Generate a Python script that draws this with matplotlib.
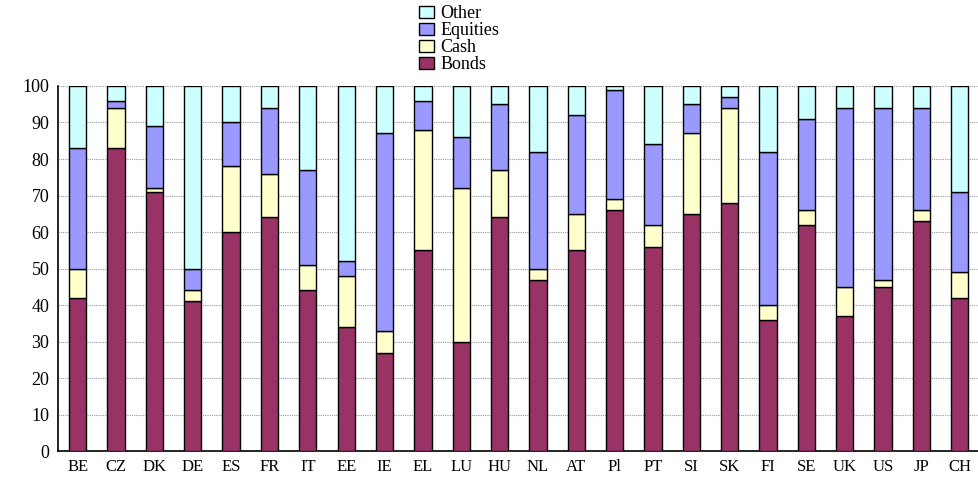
import numpy as np
import matplotlib
matplotlib.use('Agg')
import matplotlib.pyplot as plt

plt.rc('font', family='Liberation Serif')

countries = ['BE', 'CZ', 'DK', 'DE', 'ES', 'FR', 'IT', 'EE', 'IE', 'EL', 'LU', 'HU',
             'NL', 'AT', 'Pl', 'PT', 'SI', 'SK', 'FI', 'SE', 'UK', 'US', 'JP', 'CH']
bonds = [42, 83, 71, 41, 60, 64, 44, 34, 27, 55, 30, 64,
         47, 55, 66, 56, 65, 68, 36, 62, 37, 45, 63, 42]
cash = [8, 11, 1, 3, 18, 12, 7, 14, 6, 33, 42, 13,
        3, 10, 3, 6, 22, 26, 4, 4, 8, 2, 3, 7]
equities = [33, 2, 17, 6, 12, 18, 26, 4, 54, 8, 14, 18,
            32, 27, 30, 22, 8, 3, 42, 25, 49, 47, 28, 22]
other = [17, 4, 11, 50, 10, 6, 23, 48, 13, 4, 14, 5,
         18, 8, 1, 16, 5, 3, 18, 9, 6, 6, 6, 29]

series = [('Bonds', bonds, '#993366'),
          ('Cash', cash, '#FFFFCC'),
          ('Equities', equities, '#9999FF'),
          ('Other', other, '#CCFFFF')]

fig = plt.figure(figsize=(9.79, 4.83), dpi=100)
ax = fig.add_axes([0.059, 0.066, 0.941, 0.756])

x = np.arange(len(countries))
bottom = np.zeros(len(countries))
handles = []
for name, vals, col in series:
    b = ax.bar(x, vals, 0.45, bottom=bottom, color=col, edgecolor='black',
               linewidth=1.0, label=name, zorder=3)
    handles.append(b)
    bottom += np.array(vals)

ax.set_ylim(0, 100)
ax.set_xlim(-0.52, len(countries) - 0.5)
ax.set_yticks(range(0, 101, 10))
ax.set_xticks(x)
ax.set_xticklabels(countries, fontsize=12)
ax.tick_params(axis='y', labelsize=13, length=0, pad=6)
ax.tick_params(axis='x', length=0, pad=6)
ax.yaxis.grid(True, color='#999999', linestyle=(0, (1, 1)), linewidth=0.8, zorder=0)
ax.spines['top'].set_visible(False)
ax.spines['right'].set_visible(False)
ax.spines['left'].set_linewidth(1.2)
ax.spines['bottom'].set_linewidth(1.2)

leg = fig.legend(handles[::-1], [s[0] for s in series][::-1], loc='upper left',
                 bbox_to_anchor=(0.415, 1.015), frameon=False, fontsize=13,
                 handlelength=0.85, handleheight=0.7, handletextpad=0.35,
                 labelspacing=0.0, borderpad=0.2)

fig.savefig('out.png', dpi=100)
